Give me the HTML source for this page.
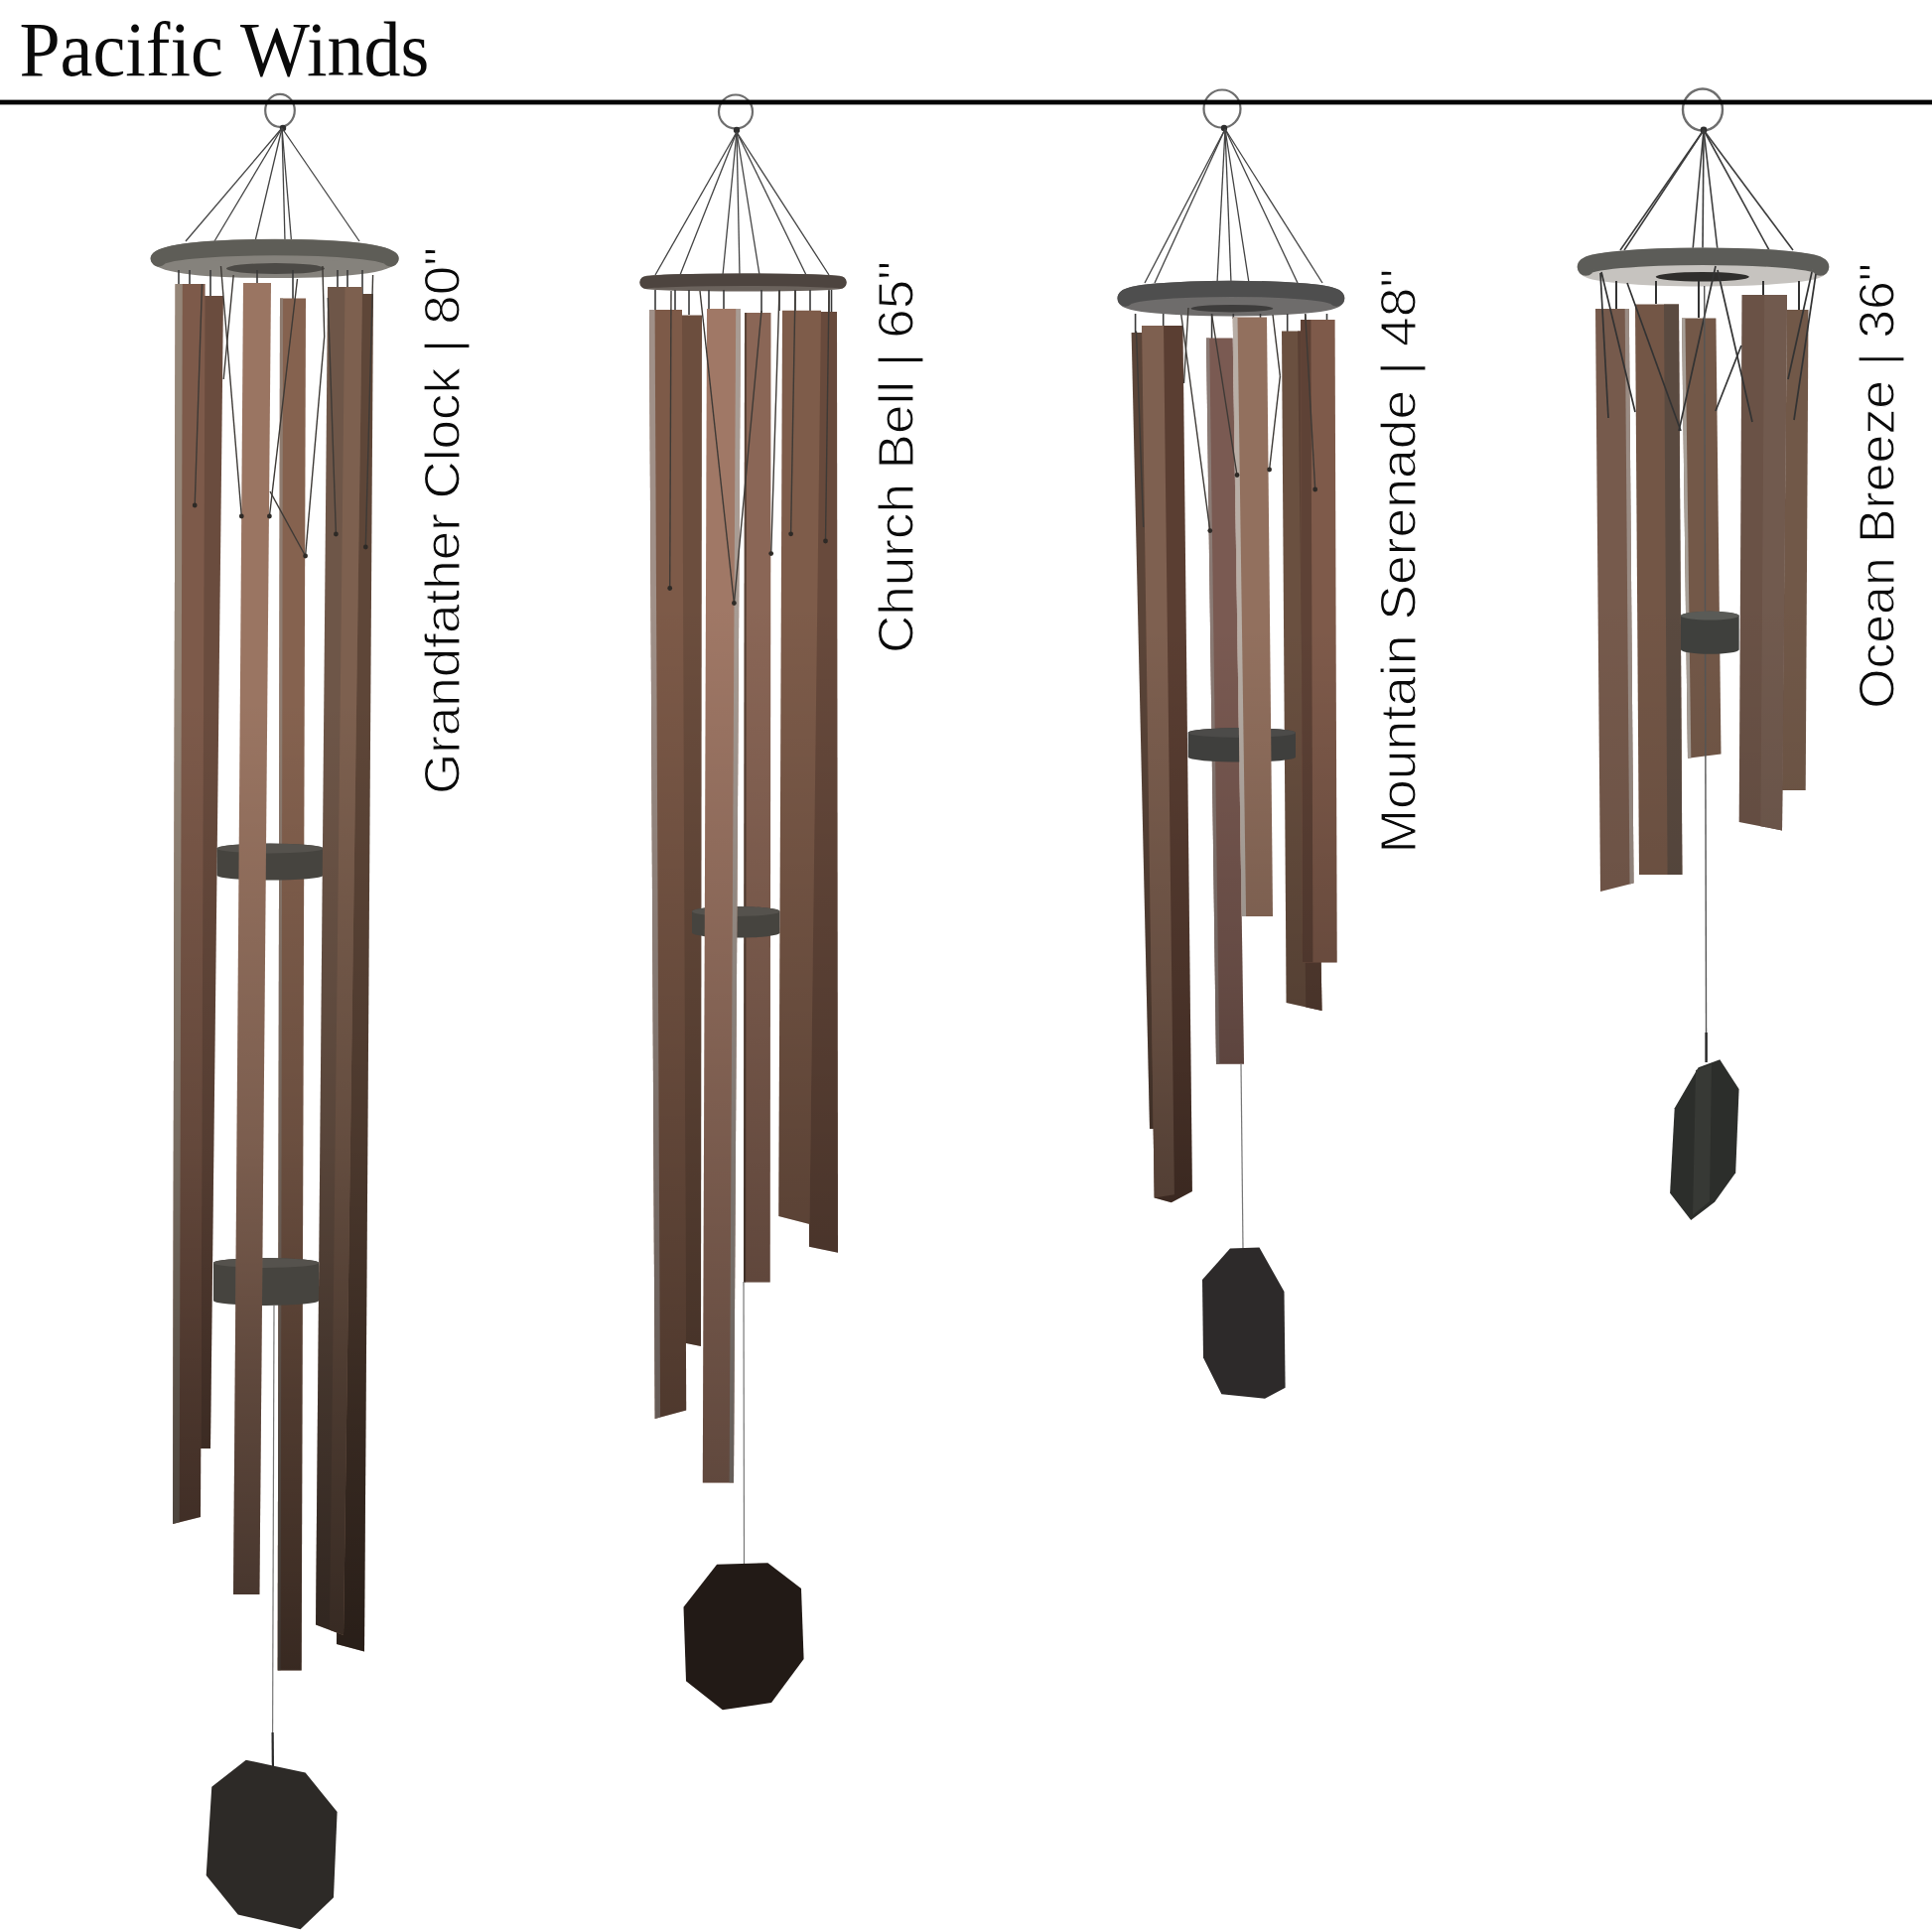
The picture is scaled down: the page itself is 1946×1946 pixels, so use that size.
<!DOCTYPE html><html><head><meta charset="utf-8"><style>html,body{margin:0;padding:0;background:#fff;width:1946px;height:1946px;overflow:hidden}svg{display:block}</style></head><body>
<svg width="1946" height="1946" viewBox="0 0 1946 1946">
<rect width="1946" height="1946" fill="#fff"/>
<defs><linearGradient id="sh1" gradientUnits="userSpaceOnUse" x1="0" y1="285.0" x2="0" y2="1683.0"><stop offset="0.00" stop-color="#000" stop-opacity="0.00"/><stop offset="0.30" stop-color="#000" stop-opacity="0.00"/><stop offset="0.62" stop-color="#000" stop-opacity="0.20"/><stop offset="0.80" stop-color="#000" stop-opacity="0.40"/><stop offset="1.00" stop-color="#000" stop-opacity="0.58"/></linearGradient><linearGradient id="sh2" gradientUnits="userSpaceOnUse" x1="0" y1="311.0" x2="0" y2="1494.0"><stop offset="0.00" stop-color="#000" stop-opacity="0.00"/><stop offset="0.25" stop-color="#000" stop-opacity="0.00"/><stop offset="0.60" stop-color="#000" stop-opacity="0.18"/><stop offset="1.00" stop-color="#000" stop-opacity="0.40"/></linearGradient><linearGradient id="sh3" gradientUnits="userSpaceOnUse" x1="0" y1="319.0" x2="0" y2="1211.0"><stop offset="0.00" stop-color="#000" stop-opacity="0.00"/><stop offset="0.35" stop-color="#000" stop-opacity="0.00"/><stop offset="0.75" stop-color="#000" stop-opacity="0.18"/><stop offset="1.00" stop-color="#000" stop-opacity="0.35"/></linearGradient><linearGradient id="sh4" gradientUnits="userSpaceOnUse" x1="0" y1="297.0" x2="0" y2="898.0"><stop offset="0.00" stop-color="#000" stop-opacity="0.00"/><stop offset="0.50" stop-color="#000" stop-opacity="0.00"/><stop offset="1.00" stop-color="#000" stop-opacity="0.08"/></linearGradient></defs>
<text x="19.4" y="76" font-family="Liberation Serif" font-size="78" fill="#0a0a0a" textLength="413" lengthAdjust="spacingAndGlyphs">Pacific Winds</text>
<ellipse cx="282.0" cy="111.3" rx="14.8" ry="16.5" fill="none" stroke="#6e6e6e" stroke-width="2.2"/><ellipse cx="741.0" cy="112.5" rx="17.0" ry="17.0" fill="none" stroke="#6e6e6e" stroke-width="2.2"/><ellipse cx="1231.0" cy="109.5" rx="18.5" ry="19.0" fill="none" stroke="#6e6e6e" stroke-width="2.2"/><ellipse cx="1715.0" cy="110.5" rx="20.0" ry="21.0" fill="none" stroke="#6e6e6e" stroke-width="2.4"/>
<rect x="0" y="100.6" width="1946" height="4.8" fill="#050505"/>
<circle cx="285.0" cy="129.0" r="3.2" fill="#2e2e2e"/><line x1="284.0" y1="129.0" x2="187.0" y2="243.0" stroke="#444" stroke-width="1.30"/><line x1="284.0" y1="129.0" x2="216.0" y2="243.0" stroke="#444" stroke-width="1.30"/><line x1="284.0" y1="129.0" x2="257.0" y2="243.0" stroke="#444" stroke-width="1.30"/><line x1="284.0" y1="129.0" x2="287.0" y2="243.0" stroke="#444" stroke-width="1.30"/><line x1="284.0" y1="129.0" x2="293.5" y2="243.0" stroke="#444" stroke-width="1.30"/><line x1="284.0" y1="129.0" x2="362.0" y2="243.0" stroke="#444" stroke-width="1.30"/><ellipse cx="276.6" cy="260.4" rx="116.9" ry="11.5" fill="#85827c" stroke="#85827c" stroke-width="16.2"/><path d="M159.8,260.4 A116.9,11.5 0 0 1 393.5,260.4" fill="none" stroke="#5e5d57" stroke-width="16.2" stroke-linecap="round"/><ellipse cx="277.5" cy="270.5" rx="49.5" ry="5.5" fill="#4c4a46"/><line x1="180.0" y1="272.0" x2="180.0" y2="287.0" stroke="#3a3a3a" stroke-width="1.60"/><line x1="191.0" y1="272.0" x2="191.0" y2="287.0" stroke="#3a3a3a" stroke-width="1.60"/><line x1="212.0" y1="272.0" x2="212.0" y2="299.0" stroke="#3a3a3a" stroke-width="1.60"/><line x1="259.0" y1="272.0" x2="259.0" y2="286.0" stroke="#3a3a3a" stroke-width="1.60"/><line x1="295.0" y1="272.0" x2="295.0" y2="301.0" stroke="#3a3a3a" stroke-width="1.60"/><line x1="340.0" y1="272.0" x2="340.0" y2="290.0" stroke="#3a3a3a" stroke-width="1.60"/><line x1="350.0" y1="272.0" x2="350.0" y2="290.0" stroke="#3a3a3a" stroke-width="1.60"/><line x1="365.0" y1="272.0" x2="365.0" y2="297.0" stroke="#3a3a3a" stroke-width="1.60"/><polygon points="199.0,298.0 225.0,298.0 212.0,1459.0 186.0,1459.0" fill="#6a4c3e"/><polygon points="199.0,298.0 225.0,298.0 212.0,1459.0 186.0,1459.0" fill="url(#sh1)"/><polygon points="348.0,296.0 376.0,296.0 367.0,1663.4 339.0,1656.0" fill="#5e4638"/><polygon points="348.0,296.0 376.0,296.0 367.0,1663.4 339.0,1656.0" fill="url(#sh1)"/><polygon points="282.0,300.5 308.0,300.5 303.7,1682.5 279.7,1682.5" fill="#85624f"/><polygon points="282.0,300.5 285.1,300.5 282.6,1682.5 279.7,1682.5" fill="#8e7c70"/><polygon points="282.0,300.5 308.0,300.5 303.7,1682.5 279.7,1682.5" fill="url(#sh1)"/><path d="M218.5,854.5 L218.5,881.8 A53.6,5.0 0 0 0 325.6,881.8 L325.6,854.5 A53.6,5.0 0 0 0 218.5,854.5 Z" fill="#46443f"/><ellipse cx="272.1" cy="854.5" rx="53.6" ry="5.0" fill="#55524d"/><path d="M215.0,1272.0 L215.0,1310.0 A53.0,5.0 0 0 0 321.0,1310.0 L321.0,1272.0 A53.0,5.0 0 0 0 215.0,1272.0 Z" fill="#46443f"/><ellipse cx="268.0" cy="1272.0" rx="53.0" ry="5.0" fill="#55524d"/><polygon points="176.6,286.0 206.6,286.0 202.0,1528.0 174.0,1535.0" fill="#7d5a4a"/><polygon points="176.6,286.0 183.8,286.0 180.7,1533.3 174.0,1535.0" fill="#958678"/><polygon points="176.6,286.0 206.6,286.0 202.0,1528.0 174.0,1535.0" fill="url(#sh1)"/><polygon points="330.0,289.0 365.0,289.0 346.0,1647.0 318.0,1636.5" fill="#6e5648"/><polygon points="347.5,289.0 365.0,289.0 346.0,1647.0 332.0,1641.8" fill="#7d604f"/><polygon points="330.0,289.0 365.0,289.0 346.0,1647.0 318.0,1636.5" fill="url(#sh1)"/><polygon points="245.0,285.0 273.0,285.0 261.4,1606.0 235.0,1606.0" fill="#9a7562"/><polygon points="245.0,285.0 273.0,285.0 261.4,1606.0 235.0,1606.0" fill="url(#sh1)"/><line x1="222.5" y1="268.0" x2="243.3" y2="520.0" stroke="#3e3a36" stroke-width="1.40"/><line x1="235.2" y1="277.0" x2="225.2" y2="382.0" stroke="#3e3a36" stroke-width="1.40"/><line x1="299.5" y1="281.0" x2="271.4" y2="520.0" stroke="#3e3a36" stroke-width="1.40"/><line x1="272.0" y1="495.0" x2="307.6" y2="560.0" stroke="#3e3a36" stroke-width="1.40"/><line x1="324.9" y1="268.0" x2="326.7" y2="339.0" stroke="#3e3a36" stroke-width="1.40"/><line x1="326.7" y1="339.0" x2="307.6" y2="560.0" stroke="#3e3a36" stroke-width="1.40"/><line x1="203.5" y1="286.0" x2="196.2" y2="509.0" stroke="#3e3a36" stroke-width="1.40"/><line x1="330.3" y1="300.0" x2="338.4" y2="538.0" stroke="#3e3a36" stroke-width="1.40"/><line x1="375.6" y1="277.0" x2="368.3" y2="551.0" stroke="#3e3a36" stroke-width="1.40"/><circle cx="243.3" cy="520.0" r="2.4" fill="#2e2a26"/><circle cx="271.4" cy="520.0" r="2.4" fill="#2e2a26"/><circle cx="307.6" cy="560.0" r="2.4" fill="#2e2a26"/><circle cx="196.2" cy="509.0" r="2.4" fill="#2e2a26"/><circle cx="338.4" cy="538.0" r="2.4" fill="#2e2a26"/><circle cx="368.3" cy="551.0" r="2.4" fill="#2e2a26"/><line x1="276.0" y1="1315.0" x2="274.5" y2="1775.0" stroke="#777" stroke-width="1.20"/><line x1="274.6" y1="1745.0" x2="275.0" y2="1788.0" stroke="#2a2a2a" stroke-width="2.20"/><polygon points="213.3,1799.7 247.8,1772.8 307.6,1785.5 339.6,1825.0 336.0,1911.3 302.6,1943.2 239.7,1928.5 207.7,1889.0" fill="#2d2a27"/>
<circle cx="742.0" cy="131.0" r="3.2" fill="#2e2e2e"/><line x1="742.0" y1="133.0" x2="660.0" y2="277.0" stroke="#444" stroke-width="1.30"/><line x1="742.0" y1="133.0" x2="685.0" y2="277.0" stroke="#444" stroke-width="1.30"/><line x1="742.0" y1="133.0" x2="728.0" y2="277.0" stroke="#444" stroke-width="1.30"/><line x1="742.0" y1="133.0" x2="745.0" y2="277.0" stroke="#444" stroke-width="1.30"/><line x1="742.0" y1="133.0" x2="765.0" y2="277.0" stroke="#444" stroke-width="1.30"/><line x1="742.0" y1="133.0" x2="812.0" y2="277.0" stroke="#444" stroke-width="1.30"/><line x1="742.0" y1="133.0" x2="835.0" y2="277.0" stroke="#444" stroke-width="1.30"/><ellipse cx="748.5" cy="284.5" rx="97.8" ry="2.8" fill="#6a625c" stroke="#6a625c" stroke-width="12.6"/><path d="M650.8,284.5 A97.8,2.8 0 0 1 846.3,284.5" fill="none" stroke="#4d443f" stroke-width="12.6" stroke-linecap="round"/><line x1="660.0" y1="292.0" x2="660.0" y2="313.0" stroke="#3a3a3a" stroke-width="1.60"/><line x1="680.0" y1="292.0" x2="680.0" y2="313.0" stroke="#3a3a3a" stroke-width="1.60"/><line x1="694.0" y1="292.0" x2="694.0" y2="317.0" stroke="#3a3a3a" stroke-width="1.60"/><line x1="714.0" y1="292.0" x2="714.0" y2="312.0" stroke="#3a3a3a" stroke-width="1.60"/><line x1="729.0" y1="292.0" x2="729.0" y2="312.0" stroke="#3a3a3a" stroke-width="1.60"/><line x1="767.0" y1="292.0" x2="767.0" y2="315.0" stroke="#3a3a3a" stroke-width="1.60"/><line x1="785.0" y1="292.0" x2="785.0" y2="313.0" stroke="#3a3a3a" stroke-width="1.60"/><line x1="801.0" y1="292.0" x2="801.0" y2="313.0" stroke="#3a3a3a" stroke-width="1.60"/><line x1="816.0" y1="292.0" x2="816.0" y2="313.0" stroke="#3a3a3a" stroke-width="1.60"/><line x1="835.0" y1="292.0" x2="835.0" y2="314.0" stroke="#3a3a3a" stroke-width="1.60"/><line x1="837.5" y1="292.0" x2="837.5" y2="314.0" stroke="#3a3a3a" stroke-width="1.60"/><polygon points="682.0,317.6 707.0,317.6 706.0,1356.0 681.0,1351.0" fill="#6c4e3e"/><polygon points="682.0,317.6 707.0,317.6 706.0,1356.0 681.0,1351.0" fill="url(#sh2)"/><polygon points="814.0,314.0 843.0,314.0 844.0,1261.8 815.0,1255.7" fill="#684a3c"/><polygon points="814.0,314.0 843.0,314.0 844.0,1261.8 815.0,1255.7" fill="url(#sh2)"/><polygon points="750.0,315.0 776.5,315.0 775.7,1291.5 749.0,1291.5" fill="#8a6656"/><polygon points="750.0,315.0 752.1,315.0 751.1,1291.5 749.0,1291.5" fill="#5a4438"/><polygon points="750.0,315.0 776.5,315.0 775.7,1291.5 749.0,1291.5" fill="url(#sh2)"/><path d="M697.0,918.0 L697.0,939.6 A44.3,5.0 0 0 0 785.6,939.6 L785.6,918.0 A44.3,5.0 0 0 0 697.0,918.0 Z" fill="#46443f"/><ellipse cx="741.3" cy="918.0" rx="44.3" ry="5.0" fill="#55524d"/><polygon points="654.0,312.0 687.0,312.0 691.2,1420.6 659.7,1429.0" fill="#7d5a48"/><polygon points="654.0,312.0 659.6,312.0 665.1,1427.6 659.7,1429.0" fill="#a09088"/><polygon points="654.0,312.0 687.0,312.0 691.2,1420.6 659.7,1429.0" fill="url(#sh2)"/><polygon points="788.0,312.7 827.0,312.7 815.4,1233.0 784.3,1225.0" fill="#7e5c4a"/><polygon points="788.0,312.7 827.0,312.7 815.4,1233.0 784.3,1225.0" fill="url(#sh2)"/><polygon points="712.0,311.0 746.0,311.0 739.0,1493.5 707.8,1493.5" fill="#a07866"/><polygon points="741.2,311.0 746.0,311.0 739.0,1493.5 734.6,1493.5" fill="#a89c94"/><polygon points="712.0,311.0 746.0,311.0 739.0,1493.5 707.8,1493.5" fill="url(#sh2)"/><line x1="705.0" y1="293.0" x2="739.4" y2="607.5" stroke="#3e3a36" stroke-width="1.40"/><line x1="767.0" y1="313.0" x2="747.0" y2="526.0" stroke="#3e3a36" stroke-width="1.40"/><line x1="747.0" y1="526.0" x2="739.4" y2="607.5" stroke="#3e3a36" stroke-width="1.40"/><line x1="785.0" y1="293.0" x2="776.7" y2="557.6" stroke="#3e3a36" stroke-width="1.40"/><line x1="801.0" y1="293.0" x2="796.6" y2="537.8" stroke="#3e3a36" stroke-width="1.40"/><line x1="835.0" y1="293.0" x2="831.5" y2="545.0" stroke="#3e3a36" stroke-width="1.40"/><line x1="676.0" y1="293.0" x2="674.7" y2="592.5" stroke="#3e3a36" stroke-width="1.40"/><circle cx="739.4" cy="607.5" r="2.4" fill="#2e2a26"/><circle cx="776.7" cy="557.6" r="2.4" fill="#2e2a26"/><circle cx="796.6" cy="537.8" r="2.4" fill="#2e2a26"/><circle cx="831.5" cy="545.0" r="2.4" fill="#2e2a26"/><circle cx="674.7" cy="592.5" r="2.4" fill="#2e2a26"/><line x1="749.0" y1="1291.0" x2="749.5" y2="1575.0" stroke="#777" stroke-width="1.20"/><polygon points="722.1,1575.7 773.4,1574.2 807.0,1600.0 809.6,1671.0 777.0,1715.0 727.8,1722.2 691.0,1693.2 688.5,1618.7" fill="#221a16"/>
<circle cx="1233.0" cy="129.0" r="3.2" fill="#2e2e2e"/><line x1="1234.0" y1="130.0" x2="1153.0" y2="285.0" stroke="#444" stroke-width="1.30"/><line x1="1234.0" y1="130.0" x2="1163.0" y2="285.0" stroke="#444" stroke-width="1.30"/><line x1="1234.0" y1="130.0" x2="1226.0" y2="285.0" stroke="#444" stroke-width="1.30"/><line x1="1234.0" y1="130.0" x2="1240.0" y2="285.0" stroke="#444" stroke-width="1.30"/><line x1="1234.0" y1="130.0" x2="1258.0" y2="285.0" stroke="#444" stroke-width="1.30"/><line x1="1234.0" y1="130.0" x2="1307.0" y2="285.0" stroke="#444" stroke-width="1.30"/><line x1="1234.0" y1="130.0" x2="1332.0" y2="285.0" stroke="#444" stroke-width="1.30"/><ellipse cx="1239.9" cy="300.6" rx="106.3" ry="9.8" fill="#6e6c6b" stroke="#6e6c6b" stroke-width="16.2"/><path d="M1133.6,300.6 A106.3,9.8 0 0 1 1346.2,300.6" fill="none" stroke="#4e4e4e" stroke-width="16.2" stroke-linecap="round"/><ellipse cx="1240.9" cy="310.7" rx="41.4" ry="3.7" fill="#3e3d3c"/><line x1="1143.6" y1="316.0" x2="1143.6" y2="336.0" stroke="#3a3a3a" stroke-width="1.60"/><line x1="1171.7" y1="316.0" x2="1171.7" y2="329.0" stroke="#3a3a3a" stroke-width="1.60"/><line x1="1220.6" y1="316.0" x2="1220.6" y2="341.0" stroke="#3a3a3a" stroke-width="1.60"/><line x1="1242.3" y1="316.0" x2="1242.3" y2="321.0" stroke="#3a3a3a" stroke-width="1.60"/><line x1="1269.5" y1="316.0" x2="1269.5" y2="321.0" stroke="#3a3a3a" stroke-width="1.60"/><line x1="1296.7" y1="316.0" x2="1296.7" y2="335.0" stroke="#3a3a3a" stroke-width="1.60"/><line x1="1314.8" y1="316.0" x2="1314.8" y2="323.0" stroke="#3a3a3a" stroke-width="1.60"/><line x1="1336.5" y1="316.0" x2="1336.5" y2="323.0" stroke="#3a3a3a" stroke-width="1.60"/><polygon points="1139.6,335.0 1163.0,335.0 1180.0,1137.0 1158.0,1137.0" fill="#5a4438"/><polygon points="1139.6,335.0 1163.0,335.0 1180.0,1137.0 1158.0,1137.0" fill="url(#sh3)"/><polygon points="1291.0,333.5 1320.0,333.5 1331.5,1018.0 1295.6,1010.0" fill="#6a5040"/><polygon points="1307.0,333.5 1320.0,333.5 1331.5,1018.0 1315.3,1014.4" fill="#5a4034"/><polygon points="1291.0,333.5 1320.0,333.5 1331.5,1018.0 1295.6,1010.0" fill="url(#sh3)"/><polygon points="1215.0,340.5 1241.7,340.5 1253.0,1071.7 1225.0,1071.7" fill="#7a5a52"/><polygon points="1215.0,340.5 1218.2,340.5 1228.4,1071.7 1225.0,1071.7" fill="#8a7a74"/><polygon points="1215.0,340.5 1241.7,340.5 1253.0,1071.7 1225.0,1071.7" fill="url(#sh3)"/><path d="M1196.7,738.0 L1196.7,762.6 A54.1,5.0 0 0 0 1305.0,762.6 L1305.0,738.0 A54.1,5.0 0 0 0 1196.7,738.0 Z" fill="#3f3f3d"/><ellipse cx="1250.8" cy="738.0" rx="54.1" ry="5.0" fill="#4c4b49"/><polygon points="1150.0,328.0 1191.5,328.0 1200.9,1200.1 1179.8,1211.3 1162.7,1206.6" fill="#5a3e32"/><polygon points="1150.0,328.0 1172.0,328.0 1182.9,1203.2 1162.7,1206.6" fill="#7e6050"/><polygon points="1150.0,328.0 1191.5,328.0 1200.9,1200.1 1179.8,1211.3 1162.7,1206.6" fill="url(#sh3)"/><polygon points="1310.0,322.0 1344.6,322.0 1346.7,969.6 1312.0,969.6" fill="#7e5a4a"/><polygon points="1310.0,322.0 1320.4,322.0 1322.4,969.6 1312.0,969.6" fill="#5e4236"/><polygon points="1310.0,322.0 1344.6,322.0 1346.7,969.6 1312.0,969.6" fill="url(#sh3)"/><polygon points="1241.7,319.4 1276.0,319.4 1282.0,923.0 1250.7,923.0" fill="#92705e"/><polygon points="1241.7,319.4 1246.5,319.4 1255.1,923.0 1250.7,923.0" fill="#b8aea6"/><polygon points="1241.7,319.4 1276.0,319.4 1282.0,923.0 1250.7,923.0" fill="url(#sh3)"/><line x1="1189.8" y1="317.0" x2="1218.8" y2="534.6" stroke="#3e3a36" stroke-width="1.40"/><line x1="1197.0" y1="310.0" x2="1192.5" y2="386.0" stroke="#3e3a36" stroke-width="1.40"/><line x1="1220.6" y1="317.0" x2="1246.0" y2="478.5" stroke="#3e3a36" stroke-width="1.40"/><line x1="1282.0" y1="317.0" x2="1289.4" y2="378.8" stroke="#3e3a36" stroke-width="1.40"/><line x1="1289.4" y1="378.8" x2="1278.6" y2="473.0" stroke="#3e3a36" stroke-width="1.40"/><line x1="1314.8" y1="317.0" x2="1324.7" y2="493.0" stroke="#3e3a36" stroke-width="1.40"/><line x1="1144.5" y1="333.5" x2="1151.7" y2="531.0" stroke="#3e3a36" stroke-width="1.40"/><circle cx="1218.8" cy="534.6" r="2.4" fill="#2e2a26"/><circle cx="1246.0" cy="478.5" r="2.4" fill="#2e2a26"/><circle cx="1278.6" cy="473.0" r="2.4" fill="#2e2a26"/><circle cx="1324.7" cy="493.0" r="2.4" fill="#2e2a26"/><line x1="1250.0" y1="1072.0" x2="1252.0" y2="1258.0" stroke="#777" stroke-width="1.20"/><polygon points="1239.0,1257.6 1268.5,1256.5 1293.5,1301.0 1294.6,1397.8 1274.0,1408.7 1230.4,1404.3 1212.0,1367.4 1211.0,1289.0" fill="#2d2a2a"/>
<circle cx="1716.0" cy="131.0" r="3.4" fill="#2e2e2e"/><line x1="1716.0" y1="131.0" x2="1632.0" y2="252.0" stroke="#3d3d3d" stroke-width="1.60"/><line x1="1716.0" y1="131.0" x2="1636.0" y2="252.0" stroke="#3d3d3d" stroke-width="1.60"/><line x1="1716.0" y1="131.0" x2="1705.0" y2="252.0" stroke="#3d3d3d" stroke-width="1.60"/><line x1="1716.0" y1="131.0" x2="1715.0" y2="252.0" stroke="#3d3d3d" stroke-width="1.60"/><line x1="1716.0" y1="131.0" x2="1730.0" y2="252.0" stroke="#3d3d3d" stroke-width="1.60"/><line x1="1716.0" y1="131.0" x2="1782.0" y2="252.0" stroke="#3d3d3d" stroke-width="1.60"/><line x1="1716.0" y1="131.0" x2="1806.0" y2="252.0" stroke="#3d3d3d" stroke-width="1.60"/><ellipse cx="1715.5" cy="269.0" rx="118.1" ry="10.8" fill="#c6c3bf" stroke="#c6c3bf" stroke-width="17.4"/><path d="M1597.4,269.0 A118.1,10.8 0 0 1 1833.6,269.0" fill="none" stroke="#5c5c58" stroke-width="17.4" stroke-linecap="round"/><ellipse cx="1714.8" cy="278.8" rx="47.1" ry="4.8" fill="#2f2e2c"/><line x1="1628.0" y1="283.0" x2="1628.0" y2="311.0" stroke="#333" stroke-width="2.00"/><line x1="1668.0" y1="283.0" x2="1668.0" y2="306.0" stroke="#333" stroke-width="2.00"/><line x1="1711.0" y1="283.0" x2="1711.0" y2="320.0" stroke="#333" stroke-width="2.00"/><line x1="1776.0" y1="283.0" x2="1776.0" y2="297.0" stroke="#333" stroke-width="2.00"/><line x1="1812.0" y1="283.0" x2="1812.0" y2="312.0" stroke="#333" stroke-width="2.00"/><polygon points="1694.0,320.4 1728.4,320.4 1733.5,759.6 1700.0,763.8" fill="#735848"/><polygon points="1694.0,320.4 1697.4,320.4 1703.3,763.4 1700.0,763.8" fill="#a8a098"/><polygon points="1694.0,320.4 1728.4,320.4 1733.5,759.6 1700.0,763.8" fill="url(#sh4)"/><polygon points="1800.0,312.0 1821.5,312.0 1818.7,796.0 1795.0,796.0" fill="#715848"/><polygon points="1800.0,312.0 1821.5,312.0 1818.7,796.0 1795.0,796.0" fill="url(#sh4)"/><polygon points="1607.0,311.0 1640.8,311.0 1645.5,889.5 1612.0,897.9" fill="#765a4c"/><polygon points="1636.7,311.0 1640.8,311.0 1645.5,889.5 1641.5,890.5" fill="#9a8c84"/><polygon points="1607.0,311.0 1640.8,311.0 1645.5,889.5 1612.0,897.9" fill="url(#sh4)"/><polygon points="1647.0,306.4 1691.0,306.4 1694.4,881.0 1651.0,881.0" fill="#735646"/><polygon points="1676.0,306.4 1691.0,306.4 1694.4,881.0 1679.6,881.0" fill="#5a4a40"/><polygon points="1647.0,306.4 1691.0,306.4 1694.4,881.0 1651.0,881.0" fill="url(#sh4)"/><polygon points="1754.5,297.0 1800.0,297.0 1795.0,836.4 1751.7,828.0" fill="#6a5246"/><polygon points="1777.2,297.0 1800.0,297.0 1795.0,836.4 1773.3,832.2" fill="#715a4e"/><polygon points="1754.5,297.0 1800.0,297.0 1795.0,836.4 1751.7,828.0" fill="url(#sh4)"/><line x1="1613.0" y1="274.0" x2="1647.0" y2="415.0" stroke="#333" stroke-width="1.70"/><line x1="1612.0" y1="275.0" x2="1620.0" y2="421.0" stroke="#333" stroke-width="1.70"/><line x1="1639.0" y1="285.0" x2="1693.0" y2="434.0" stroke="#333" stroke-width="1.70"/><line x1="1728.0" y1="268.0" x2="1691.0" y2="434.0" stroke="#333" stroke-width="1.70"/><line x1="1730.0" y1="272.0" x2="1765.0" y2="425.0" stroke="#333" stroke-width="1.70"/><line x1="1754.0" y1="348.0" x2="1728.0" y2="414.0" stroke="#333" stroke-width="1.70"/><line x1="1829.0" y1="276.0" x2="1807.0" y2="423.0" stroke="#333" stroke-width="1.70"/><line x1="1825.0" y1="274.0" x2="1801.0" y2="382.0" stroke="#333" stroke-width="1.70"/><line x1="1716.7" y1="288.0" x2="1718.6" y2="1068.0" stroke="#555" stroke-width="1.40"/><path d="M1693.0,620.1 L1693.0,654.5 A29.4,4.5 0 0 0 1751.7,654.5 L1751.7,620.1 A29.4,4.5 0 0 0 1693.0,620.1 Z" fill="#3f403d"/><ellipse cx="1722.3" cy="620.1" rx="29.4" ry="4.5" fill="#5a5b57"/><polygon points="1710.6,1075.3 1732.3,1067.3 1751.6,1097.0 1748.2,1181.2 1727.1,1210.8 1703.2,1229.0 1682.1,1201.7 1686.7,1116.3" fill="#2c2e2b"/><polygon points="1708.0,1078.0 1724.0,1072.0 1722.0,1210.0 1705.0,1224.0" fill="#373935"/><line x1="1718.6" y1="1040.0" x2="1718.6" y2="1070.0" stroke="#2a2a2a" stroke-width="2.40"/>
<text transform="translate(463.0,800.0) rotate(-90)" x="0" y="0" font-family="Liberation Sans" font-size="50" fill="#0a0a0a" stroke="#fff" stroke-width="1.1" textLength="551.0" lengthAdjust="spacingAndGlyphs">Grandfather Clock | 80&quot;</text>
<text transform="translate(920.0,658.0) rotate(-90)" x="0" y="0" font-family="Liberation Sans" font-size="50" fill="#0a0a0a" stroke="#fff" stroke-width="1.1" textLength="395.0" lengthAdjust="spacingAndGlyphs">Church Bell | 65&quot;</text>
<text transform="translate(1426.2,859.6) rotate(-90)" x="0" y="0" font-family="Liberation Sans" font-size="50" fill="#0a0a0a" stroke="#fff" stroke-width="1.1" textLength="589.0" lengthAdjust="spacingAndGlyphs">Mountain Serenade | 48&quot;</text>
<text transform="translate(1908.4,713.8) rotate(-90)" x="0" y="0" font-family="Liberation Sans" font-size="50" fill="#0a0a0a" stroke="#fff" stroke-width="1.1" textLength="449.0" lengthAdjust="spacingAndGlyphs">Ocean Breeze | 36&quot;</text>
</svg></body></html>
